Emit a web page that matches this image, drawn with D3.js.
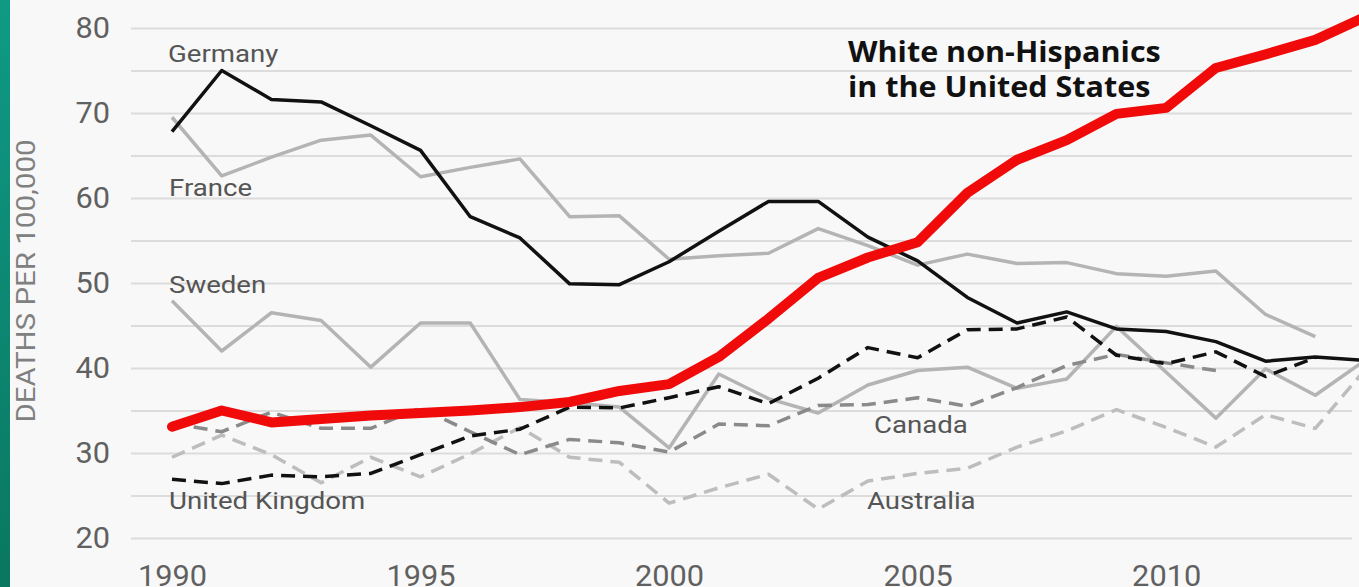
<!DOCTYPE html>
<html>
<head>
<meta charset="utf-8">
<script src="https://cdn.jsdelivr.net/npm/d3@7"></script>
<style>
  html, body { margin: 0; padding: 0; background: #f8f8f8; overflow: hidden; }
  svg { display: block; }
</style>
</head>
<body>
<svg id="chart" width="1359" height="587"></svg>
<script>
// ---- data ----
const years = [1990, 1991, 1992, 1993, 1994, 1995, 1996, 1997, 1998, 1999, 2000, 2001, 2002,
               2003, 2004, 2005, 2006, 2007, 2008, 2009, 2010, 2011, 2012, 2013, 2014];
const usWhite   = [33.1, 35.0, 33.6, 34.0, 34.4, 34.7, 35.0, 35.4, 36.0, 37.3, 38.1, 41.3, 45.8,
                   50.6, 53.0, 54.8, 60.6, 64.5, 66.8, 69.9, 70.6, 75.3, 76.9, 78.6, 81.3];
const germany   = [67.8, 75.0, 71.6, 71.3, 68.5, 65.6, 57.8, 55.3, 49.9, 49.8, 52.5, 56.1, 59.6,
                   59.6, 55.4, 52.6, 48.3, 45.3, 46.6, 44.6, 44.3, 43.1, 40.8, 41.3, 40.9];
const france    = [69.5, 62.6, 64.8, 66.8, 67.4, 62.5, 63.6, 64.6, 57.8, 57.9, 52.8, 53.2, 53.5,
                   56.4, 54.4, 52.1, 53.4, 52.3, 52.4, 51.1, 50.8, 51.4, 46.3, 43.7, null];
const sweden    = [47.9, 42.0, 46.5, 45.6, 40.1, 45.3, 45.3, 36.3, 35.9, 35.4, 30.6, 39.3, 36.4,
                   34.7, 38.0, 39.7, 40.1, 37.6, 38.7, 44.9, 39.5, 34.1, 39.9, 36.8, 40.9];
const uk        = [26.9, 26.4, 27.4, 27.2, 27.6, 29.8, 32.0, 32.8, 35.4, 35.3, 36.5, 37.8, 35.8,
                   38.8, 42.4, 41.2, 44.5, 44.6, 46.0, 41.5, 40.5, 41.9, 39.0, 41.2, null];
const canada    = [33.5, 32.5, 34.8, 32.9, 32.9, 35.3, 32.5, 29.8, 31.6, 31.2, 30.1, 33.4, 33.2,
                   35.6, 35.7, 36.5, 35.5, 37.7, 40.3, 41.6, 40.6, 39.7, null, null, null];
const australia = [29.5, 32.1, 29.8, 26.5, 29.5, 27.2, 29.9, 33.0, 29.5, 28.9, 24.1, 25.9, 27.5,
                   23.4, 26.7, 27.6, 28.2, 30.7, 32.6, 35.1, 33.0, 30.7, 34.5, 32.9, 39.8];
const yTicks = [20, 25, 30, 35, 40, 45, 50, 55, 60, 65, 70, 75, 80];
const yLabelTicks = [20, 30, 40, 50, 60, 70, 80];
const xTicks = [1990, 1995, 2000, 2005, 2010];
const yTitle = "DEATHS PER 100,000";
const usLabel = ["White non-Hispanics", "in the United States"];

// ---- layout / styles ----
const series = [
  { name: "France",         values: france,    color: "#b4b4b4", width: 3.5, dash: null,   label: [169, 196] },
  { name: "Sweden",         values: sweden,    color: "#b4b4b4", width: 3.5, dash: null,   label: [169, 293] },
  { name: "Australia",      values: australia, color: "#bdbdbd", width: 3.5, dash: "14,8", label: [867, 509] },
  { name: "Canada",         values: canada,    color: "#8a8a8a", width: 3.5, dash: "14,8", label: [874, 433] },
  { name: "United Kingdom", values: uk,        color: "#111111", width: 3.5, dash: "14,8", label: [169, 509] },
  { name: "Germany",        values: germany,   color: "#111111", width: 3.5, dash: null,   label: [168, 62] },
  { name: "US",             values: usWhite,   color: "#f00a0a", width: 10,  dash: null,   label: null }
];

const svg = d3.select("#chart");
const W = 1359, H = 587;

svg.append("rect").attr("width", W).attr("height", H).attr("fill", "#f8f8f8");

// left green strip
const defs = svg.append("defs");
const grad = defs.append("linearGradient").attr("id", "g").attr("x1", 0).attr("y1", 0).attr("x2", 0).attr("y2", 1);
grad.append("stop").attr("offset", "0%").attr("stop-color", "#0f9a86");
grad.append("stop").attr("offset", "100%").attr("stop-color", "#0a7760");
svg.append("rect").attr("x", 0).attr("y", 0).attr("width", 10).attr("height", H).attr("fill", "url(#g)");

const x = d3.scaleLinear().domain([1990, 2014]).range([172, 1365]);
const y = d3.scaleLinear().domain([20, 80]).range([538, 28]);

const gridLeft = 131, gridRight = 1352;

function stretch(sel, k) {
  sel.each(function () {
    const L = this.getComputedTextLength();
    d3.select(this).attr("textLength", L * k).attr("lengthAdjust", "spacingAndGlyphs");
  });
}

// y axis with gridlines
const yAxis = d3.axisLeft(y)
  .tickValues(yTicks)
  .tickSize(-(gridRight - gridLeft))
  .tickPadding(21)
  .tickFormat(d => yLabelTicks.includes(d) ? d : "");
const gy = svg.append("g").attr("transform", `translate(${gridLeft},0)`).call(yAxis);
gy.select(".domain").remove();
gy.selectAll(".tick line").attr("stroke", "#dcdcdc").attr("stroke-width", 2);
gy.selectAll(".tick text")
  .attr("font-family", "Roboto, 'Liberation Sans', sans-serif")
  .attr("font-size", 29)
  .attr("fill", "#606060");
stretch(gy.selectAll(".tick text").filter(function () { return this.textContent !== ""; }), 1.06);

// x axis
const xAxis = d3.axisBottom(x).tickValues(xTicks).tickSize(0).tickFormat(d3.format("d"));
const gx = svg.append("g").attr("transform", "translate(0,540)").call(xAxis);
gx.select(".domain").remove();
gx.selectAll(".tick text")
  .attr("y", 46).attr("dy", 0)
  .attr("font-family", "Roboto, 'Liberation Sans', sans-serif")
  .attr("font-size", 29)
  .attr("fill", "#606060");
stretch(gx.selectAll(".tick text"), 1.06);

// y title
const yt = svg.append("text")
  .attr("transform", "translate(35,281) rotate(-90)")
  .attr("text-anchor", "middle")
  .attr("font-family", "Roboto, 'Liberation Sans', sans-serif")
  .attr("font-size", 25)
  .attr("fill", "#808080")
  .text(yTitle);
stretch(yt, 1.18);

// lines
const line = d3.line()
  .defined(d => d != null)
  .x((d, i) => x(years[i]))
  .y(d => y(d));

svg.append("g").selectAll("path")
  .data(series)
  .join("path")
  .attr("d", s => line(s.values))
  .attr("fill", "none")
  .attr("stroke", s => s.color)
  .attr("stroke-width", s => s.width)
  .attr("stroke-dasharray", s => s.dash)
  .attr("stroke-linejoin", "round")
  .attr("stroke-linecap", s => s.name === "US" ? "round" : "butt");

// series labels
const lbl = svg.append("g").selectAll("text")
  .data(series.filter(s => s.label))
  .join("text")
  .attr("x", s => s.label[0])
  .attr("y", s => s.label[1])
  .attr("font-family", "Roboto, 'Liberation Sans', sans-serif")
  .attr("font-size", 24)
  .attr("fill", "#555")
  .text(s => s.name);
stretch(lbl, 1.15);

// US label
const ul = svg.append("g").selectAll("text")
  .data(usLabel)
  .join("text")
  .attr("x", 848)
  .attr("y", (d, i) => 62 + i * 35)
  .attr("font-family", "'Open Sans', 'Liberation Sans', sans-serif")
  .attr("font-weight", 700)
  .attr("font-size", 28)
  .attr("fill", "#111")
  .text(d => d);
stretch(ul, 1.09);
</script>
</body>
</html>
